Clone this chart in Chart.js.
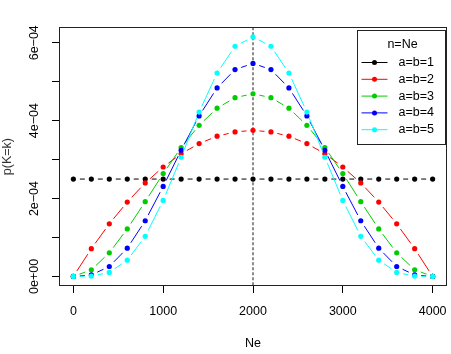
<!DOCTYPE html>
<html>
<head>
<meta charset="utf-8">
<script src="https://cdn.jsdelivr.net/npm/chart.js@4/dist/chart.umd.min.js"></script>
<style>
  body { margin: 0; background: #ffffff; }
  canvas { display: block; }
</style>
</head>
<body>
<canvas id="bb-chart" width="451" height="354"></canvas>
<script>
// Beta-Binomial chart data

const xValues = [0, 200, 400, 600, 800, 1000, 1200, 1400, 1600, 1800, 2000,
                 2200, 2400, 2600, 2800, 3000, 3200, 3400, 3600, 3800, 4000];

const ab1 = [2.50e-4, 2.50e-4, 2.50e-4, 2.50e-4, 2.50e-4, 2.50e-4, 2.50e-4, 2.50e-4, 2.50e-4, 2.50e-4, 2.50e-4,
             2.50e-4, 2.50e-4, 2.50e-4, 2.50e-4, 2.50e-4, 2.50e-4, 2.50e-4, 2.50e-4, 2.50e-4, 2.50e-4];
const ab2 = [0, 7.12e-5, 1.35e-4, 1.91e-4, 2.40e-4, 2.81e-4, 3.15e-4, 3.41e-4, 3.60e-4, 3.71e-4, 3.75e-4,
             3.71e-4, 3.60e-4, 3.41e-4, 3.15e-4, 2.81e-4, 2.40e-4, 1.91e-4, 1.35e-4, 7.12e-5, 0];
const ab3 = [0, 1.69e-5, 6.07e-5, 1.22e-4, 1.92e-4, 2.64e-4, 3.31e-4, 3.88e-4, 4.32e-4, 4.59e-4, 4.69e-4,
             4.59e-4, 4.32e-4, 3.88e-4, 3.31e-4, 2.64e-4, 1.92e-4, 1.22e-4, 6.07e-5, 1.69e-5, 0];
const ab4 = [0, 3.75e-6, 2.55e-5, 7.25e-5, 1.43e-4, 2.31e-4, 3.24e-4, 4.12e-4, 4.84e-4, 5.31e-4, 5.47e-4,
             5.31e-4, 4.84e-4, 4.12e-4, 3.24e-4, 2.31e-4, 1.43e-4, 7.25e-5, 2.55e-5, 3.75e-6, 0];
const ab5 = [0, 8.0e-7, 1.03e-5, 4.16e-5, 1.03e-4, 1.95e-4, 3.06e-4, 4.22e-4, 5.22e-4, 5.91e-4, 6.15e-4,
             5.91e-4, 5.22e-4, 4.22e-4, 3.06e-4, 1.95e-4, 1.03e-4, 4.16e-5, 1.03e-5, 8.0e-7, 0];

const seriesNames = ['a=b=1', 'a=b=2', 'a=b=3', 'a=b=4', 'a=b=5'];
const seriesColors = ['#000000', '#ff0000', '#00cd00', '#0000ff', '#00ffff'];

const xTickValues = [0, 1000, 2000, 3000, 4000];
const yTickValues = [0, 1e-4, 2e-4, 3e-4, 4e-4, 5e-4, 6e-4];
const yTickLabels = ['0e+00', '', '2e\u221204', '', '4e\u221204', '', '6e\u221204'];

const chartTitle = 'Beta-Binomial Distribution';
const legendTitle = 'n=Ne';
const xTitle = 'Ne';
const yTitle = 'p(K=k)';
const markerLine = 2000;

const FONT = '"Liberation Sans", Arial, Helvetica, sans-serif';

// lines like R's type="b": segments broken around each point
const gappedLines = {
    id: 'gappedLines',
    beforeDatasetDraw(chart, args) {
        const meta = args.meta;
        const pts = meta.data;
        const ctx = chart.ctx;
        const gap = 6.5;
        ctx.save();
        ctx.strokeStyle = chart.data.datasets[args.index].borderColor;
        ctx.lineWidth = 1;
        ctx.beginPath();
        for (let i = 0; i < pts.length - 1; i++) {
            const p0 = pts[i], p1 = pts[i + 1];
            const dx = p1.x - p0.x, dy = p1.y - p0.y;
            const d = Math.sqrt(dx * dx + dy * dy);
            if (d <= 2 * gap) continue;
            const ux = dx / d, uy = dy / d;
            ctx.moveTo(p0.x + ux * gap, p0.y + uy * gap);
            ctx.lineTo(p1.x - ux * gap, p1.y - uy * gap);
        }
        ctx.stroke();
        ctx.restore();
    }
};

// vertical reference line, plot frame and legend box
const extras = {
    id: 'extras',
    beforeDatasetsDraw(chart) {
        const ctx = chart.ctx;
        const area = chart.chartArea;
        const x = chart.scales.x.getPixelForValue(markerLine);
        ctx.save();
        ctx.strokeStyle = '#8c8c8c';
        ctx.lineWidth = 2;
        ctx.setLineDash([3, 2]);
        ctx.beginPath();
        ctx.moveTo(x, area.top);
        ctx.lineTo(x, area.bottom);
        ctx.stroke();
        ctx.restore();
    },
    afterDraw(chart) {
        const ctx = chart.ctx;
        const area = chart.chartArea;
        ctx.save();
        ctx.strokeStyle = '#222222';
        ctx.lineWidth = 1;
        ctx.strokeRect(Math.round(area.left) + 0.5, Math.round(area.top) + 0.5,
                       Math.round(area.right - area.left) - 1, Math.round(area.bottom - area.top) - 1);

        // legend
        const w = 88, h = 114;
        const left = Math.round(area.right) - w - 1.5;
        const top = Math.round(area.top) + 3.5;
        ctx.fillStyle = '#ffffff';
        ctx.fillRect(left, top, w, h);
        ctx.strokeStyle = '#222222';
        ctx.strokeRect(left, top, w, h);

        ctx.font = '12.5px ' + FONT;
        ctx.fillStyle = '#000000';
        ctx.textBaseline = 'middle';
        ctx.textAlign = 'center';
        ctx.fillText(legendTitle, left + w / 2 + 1, top + 14);
        ctx.textAlign = 'left';
        for (let i = 0; i < seriesNames.length; i++) {
            const y = top + 32 + i * 16.8;
            ctx.strokeStyle = seriesColors[i];
            ctx.beginPath();
            ctx.moveTo(left + 4, y);
            ctx.lineTo(left + 30, y);
            ctx.stroke();
            ctx.fillStyle = seriesColors[i];
            ctx.beginPath();
            ctx.arc(left + 17, y, 2.5, 0, Math.PI * 2);
            ctx.fill();
            ctx.fillStyle = '#000000';
            ctx.fillText(seriesNames[i], left + 41, y);
        }
        ctx.restore();
    }
};

function makeDatasets() {
    const series = [ab1, ab2, ab3, ab4, ab5];
    const sets = [];
    for (let i = 0; i < series.length; i++) {
        sets.push({
            label: seriesNames[i],
            data: series[i].map((v, j) => ({ x: xValues[j], y: v })),
            borderColor: seriesColors[i],
            backgroundColor: seriesColors[i],
            showLine: false,
            pointRadius: 2.6,
            pointBorderWidth: 0,
            order: series.length - i
        });
    }
    return sets;
}

function createChart() {
    const ctx = document.getElementById('bb-chart').getContext('2d');
    new Chart(ctx, {
        type: 'scatter',
        data: { datasets: makeDatasets() },
        options: {
            responsive: false,
            animation: false,
            events: [],
            layout: { padding: { left: 0, right: 4, top: 0, bottom: 0 } },
            plugins: {
                legend: { display: false },
                tooltip: { enabled: false },
                title: {
                    display: true,
                    text: chartTitle,
                    color: '#cccccc',
                    font: { family: FONT, size: 14.4, weight: 'bold' },
                    padding: { top: -12.5, bottom: 22.5 }
                }
            },
            scales: {
                x: {
                    type: 'linear',
                    min: -160,
                    max: 4160,
                    afterBuildTicks: s => { s.ticks = xTickValues.map(v => ({ value: v })); },
                    afterFit: s => { s.height = 68; s.paddingLeft = 0; s.paddingRight = 0; },
                    ticks: {
                        autoSkip: false,
                        maxRotation: 0,
                        color: '#000000',
                        padding: 11,
                        font: { family: FONT, size: 12.5 },
                        callback: v => String(v)
                    },
                    grid: {
                        display: true,
                        drawOnChartArea: false,
                        drawTicks: true,
                        tickLength: 7,
                        tickColor: '#000000'
                    },
                    border: { display: false },
                    title: {
                        display: true,
                        text: xTitle,
                        color: '#000000',
                        font: { family: FONT, size: 12.5 },
                        padding: { top: 4, bottom: 3 }
                    }
                },
                y: {
                    type: 'linear',
                    min: -2.46e-5,
                    max: 6.397e-4,
                    afterBuildTicks: s => { s.ticks = yTickValues.map(v => ({ value: v })); },
                    afterFit: s => { s.width = 59; s.paddingTop = 0; s.paddingBottom = 0; },
                    ticks: {
                        autoSkip: false,
                        minRotation: 90,
                        maxRotation: 90,
                        crossAlign: 'center',
                        padding: 0,
                        color: '#000000',
                        font: { family: FONT, size: 12.5 },
                        callback: (v, i) => yTickLabels[i]
                    },
                    grid: {
                        display: true,
                        drawOnChartArea: false,
                        drawTicks: true,
                        tickLength: 7,
                        tickColor: '#000000'
                    },
                    border: { display: false },
                    title: {
                        display: true,
                        text: yTitle,
                        color: '#333333',
                        font: { family: FONT, size: 12.5 },
                        padding: { top: 0, bottom: 0 }
                    }
                }
            }
        },
        plugins: [gappedLines, extras]
    });
}

createChart();
</script>
</body>
</html>
